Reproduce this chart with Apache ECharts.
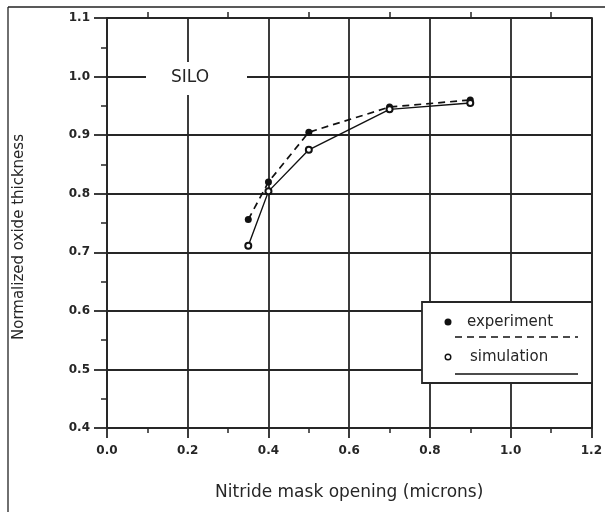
<!DOCTYPE html>
<html>
<head>
<meta charset="utf-8">
<script src="https://cdn.jsdelivr.net/npm/echarts@6/dist/echarts.min.js"></script>
<style>
html,body{margin:0;padding:0;background:#fff;}
#c{width:605px;height:512px;}
</style>
</head>
<body>
<div id="c"></div>
<script>
// Data
var xValues = [0.35, 0.4, 0.5, 0.7, 0.9];
var experiment = [0.756, 0.82, 0.905, 0.948, 0.96];
var simulation = [0.711, 0.804, 0.875, 0.944, 0.955];
var xTickLabels = ['0.0', '0.2', '0.4', '0.6', '0.8', '1.0', '1.2'];
var yTickLabels = ['0.4', '0.5', '0.6', '0.7', '0.8', '0.9', '1.0', '1.1'];
var seriesNames = ['experiment', 'simulation'];
var annotation = 'SILO';
var xTitle = 'Nitride mask opening (microns)';
var yTitle = 'Normalized oxide thickness';

function pairs(xs, ys) { return xs.map(function (x, i) { return [x, ys[i]]; }); }

var ink = '#262626';
var chart = echarts.init(document.getElementById('c'));
var labelStyle = { color: ink, fontFamily: 'DejaVu Sans', fontSize: 12, fontWeight: 'bold' };

chart.setOption({
  animation: false,
  backgroundColor: '#fff',
  grid: { left: 107, top: 18, right: 8, bottom: 84, containLabel: false },
  xAxis: [{
    type: 'value', min: 0, max: 1.2, interval: 0.2, position: 'bottom',
    axisLine: { show: true, onZero: false, lineStyle: { color: ink, width: 1.8 } },
    axisTick: { show: true, inside: false, length: 10, lineStyle: { color: ink, width: 1.8 } },
    minorTick: { show: true, splitNumber: 2, length: 5, lineStyle: { color: ink, width: 1.5 } },
    splitLine: { show: true, lineStyle: { color: ink, width: 1.8 } },
    axisLabel: Object.assign({ margin: 17, formatter: function (v) { var i = Math.round(v / 0.2); return xTickLabels[i] || ''; } }, labelStyle),
    name: xTitle, nameLocation: 'middle', nameGap: 56,
    nameTextStyle: { color: ink, fontFamily: 'DejaVu Sans', fontSize: 17 }
  }, {
    type: 'value', min: 0, max: 1.2, interval: 0.2, position: 'top',
    axisLine: { show: true, onZero: false, lineStyle: { color: ink, width: 1.8 } },
    axisTick: { show: false },
    minorTick: { show: true, splitNumber: 2, length: 6, lineStyle: { color: ink, width: 1.5 } },
    splitLine: { show: false }, axisLabel: { show: false }
  }],
  yAxis: [{
    type: 'value', min: 0.4, max: 1.1, interval: 0.1, position: 'left',
    axisLine: { show: true, onZero: false, lineStyle: { color: ink, width: 1.8 } },
    axisTick: { show: true, inside: false, length: 13, lineStyle: { color: ink, width: 1.8 } },
    minorTick: { show: true, splitNumber: 2, length: 6, lineStyle: { color: ink, width: 1.5 } },
    splitLine: { show: true, lineStyle: { color: ink, width: 1.8 } },
    axisLabel: Object.assign({ margin: 17, formatter: function (v) { var i = Math.round((v - 0.4) / 0.1); return yTickLabels[i] || ''; } }, labelStyle),
    name: yTitle, nameLocation: 'middle', nameGap: 80, nameRotate: 90,
    nameTextStyle: { color: ink, fontFamily: 'DejaVu Sans', fontSize: 15, padding: [0, 0, 0, -28] }
  }, {
    type: 'value', min: 0.4, max: 1.1, interval: 0.1, position: 'right',
    axisLine: { show: true, onZero: false, lineStyle: { color: ink, width: 1.8 } },
    axisTick: { show: false }, splitLine: { show: false }, axisLabel: { show: false }
  }],
  series: [{
    name: seriesNames[0], type: 'line', xAxisIndex: 0, yAxisIndex: 0,
    data: pairs(xValues, experiment),
    symbol: 'circle', symbolSize: 7,
    itemStyle: { color: '#111' },
    lineStyle: { color: '#111', width: 1.7, type: [7, 5] },
    z: 3
  }, {
    name: seriesNames[1], type: 'line', xAxisIndex: 0, yAxisIndex: 0,
    data: pairs(xValues, simulation),
    symbol: 'emptyCircle', symbolSize: 6,
    itemStyle: { color: '#111', borderWidth: 1.3 },
    lineStyle: { color: '#111', width: 1.4, type: 'solid' },
    z: 4
  }],
  graphic: [
    // outer frame
    { type: 'line', shape: { x1: 8, y1: 7, x2: 605, y2: 7 }, style: { stroke: '#222', lineWidth: 1.3 }, z: 10 },
    { type: 'line', shape: { x1: 8, y1: 7, x2: 8, y2: 512 }, style: { stroke: '#222', lineWidth: 1.3 }, z: 10 },
    // SILO annotation
    { type: 'rect', shape: { x: 146, y: 62, width: 101, height: 33 }, style: { fill: '#fff' }, z: 5 },
    { type: 'text', x: 190, y: 78, style: { text: annotation, fill: ink, font: '17px "DejaVu Sans"', align: 'center', verticalAlign: 'middle' }, z: 6 },
    // legend box
    { type: 'rect', shape: { x: 422, y: 302, width: 170, height: 81 }, style: { fill: '#fff', stroke: ink, lineWidth: 1.8 }, z: 20 },
    { type: 'circle', shape: { cx: 448, cy: 322, r: 3.5 }, style: { fill: '#111' }, z: 21 },
    { type: 'text', x: 467, y: 322, style: { text: seriesNames[0], fill: ink, font: '15px "DejaVu Sans"', verticalAlign: 'middle' }, z: 21 },
    { type: 'line', shape: { x1: 455, y1: 337, x2: 578, y2: 337 }, style: { stroke: '#111', lineWidth: 1.6, lineDash: [7, 5] }, z: 21 },
    { type: 'circle', shape: { cx: 448, cy: 357, r: 2.8 }, style: { fill: '#fff', stroke: '#111', lineWidth: 1.4 }, z: 21 },
    { type: 'text', x: 470, y: 357, style: { text: seriesNames[1], fill: ink, font: '15px "DejaVu Sans"', verticalAlign: 'middle' }, z: 21 },
    { type: 'line', shape: { x1: 455, y1: 374, x2: 578, y2: 374 }, style: { stroke: '#111', lineWidth: 1.4 }, z: 21 }
  ]
});
</script>
</body>
</html>
